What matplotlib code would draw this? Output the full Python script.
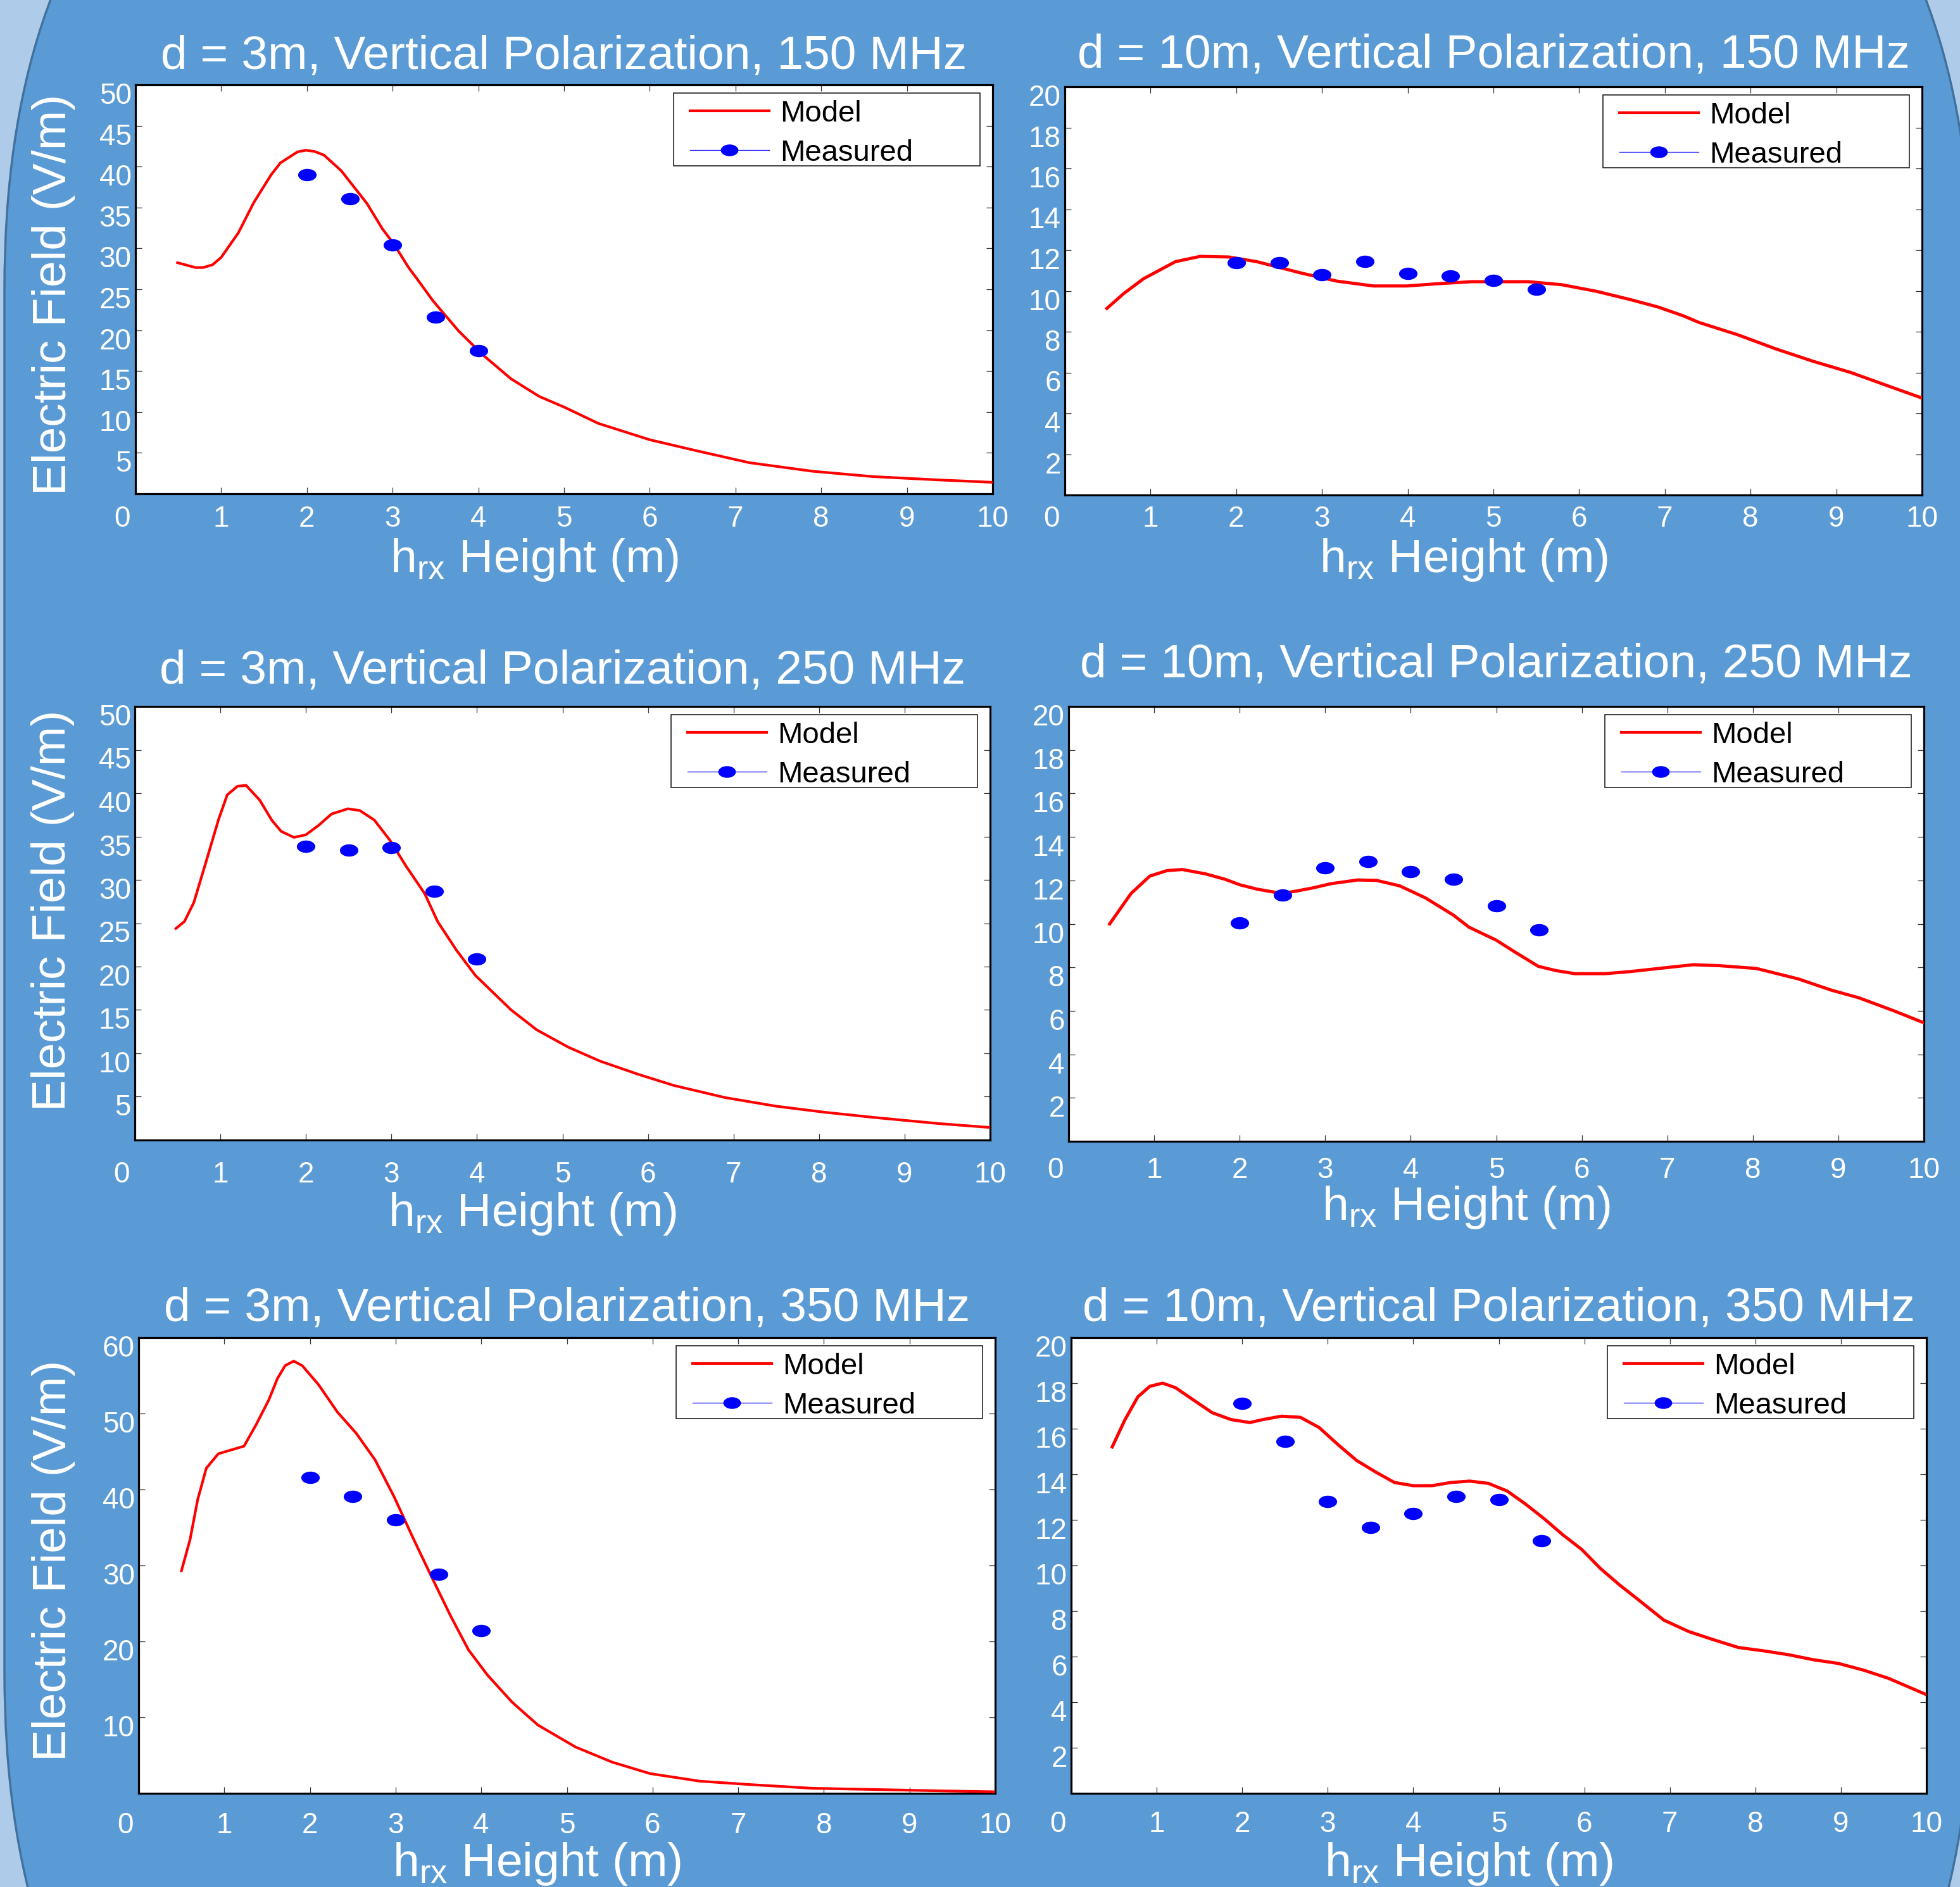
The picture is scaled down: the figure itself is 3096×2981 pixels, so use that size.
import numpy as np
import matplotlib
matplotlib.use("Agg")
import matplotlib.pyplot as plt
from matplotlib.patches import FancyBboxPatch, Rectangle
from matplotlib.path import Path
from matplotlib.transforms import Affine2D, ScaledTranslation
from matplotlib.lines import Line2D

plt.rcParams['font.family'] = ['Liberation Sans', 'DejaVu Sans']
plt.rcParams['mathtext.default'] = 'regular'

# ---- data ----
# receiver heights of the measurements
h_meas_3m = [2.0, 2.5, 3.0, 3.5, 4.0]
h_meas_10m = [2.0, 2.5, 3.0, 3.5, 4.0, 4.5, 5.0, 5.5]

# d = 3m, 150 MHz
h_mod_3m_150 = [0.49, 0.70, 0.79, 0.90, 1.0, 1.2, 1.38, 1.58, 1.69, 1.89, 1.99, 2.09, 2.2, 2.4, 2.7,
                2.88, 3.01, 3.19, 3.29, 3.47, 3.77, 4.05, 4.38, 4.71, 5.0, 5.4, 6.0, 6.57, 7.16, 7.9,
                8.6, 9.35, 10.0]
e_mod_3m_150 = [28.25, 27.66, 27.66, 28.0, 28.9, 31.9, 35.6, 38.96, 40.45, 41.8, 42.0, 41.85, 41.4, 39.5,
                35.5, 32.4, 30.6, 27.6, 26.2, 23.6, 19.9, 17.0, 14.06, 11.9, 10.6, 8.6, 6.6, 5.2, 3.8,
                2.75, 2.1, 1.7, 1.4]
e_meas_3m_150 = [39.0, 36.1, 30.4, 21.6, 17.5]

# d = 10m, 150 MHz
h_mod_10m_150 = [0.49, 0.69, 0.92, 1.29, 1.58, 1.91, 2.24, 2.77, 3.17, 3.6, 3.99, 4.35, 4.75, 5.41, 5.8,
                 6.2, 6.6, 6.92, 7.22, 7.4, 7.85, 8.3, 8.73, 9.17, 9.6, 10.0]
e_mod_10m_150 = [9.14, 9.88, 10.6, 11.43, 11.69, 11.66, 11.43, 10.86, 10.48, 10.24, 10.24, 10.35, 10.45,
                 10.45, 10.3, 9.98, 9.57, 9.21, 8.77, 8.45, 7.85, 7.15, 6.55, 6.0, 5.35, 4.75]
e_meas_10m_150 = [11.38, 11.38, 10.79, 11.43, 10.84, 10.73, 10.5, 10.09]

# d = 3m, 250 MHz
h_mod_3m_250 = [0.48, 0.58, 0.69, 0.83, 0.98, 1.08, 1.2, 1.3, 1.46, 1.6, 1.71, 1.86, 2.0, 2.15, 2.3, 2.49,
                2.63, 2.8, 2.98, 3.17, 3.39, 3.54, 3.76, 3.98, 4.2, 4.4, 4.7, 5.07, 5.44, 5.88, 6.3, 6.9,
                7.5, 8.07, 8.65, 9.4, 10.0]
e_mod_3m_250 = [24.4, 25.2, 27.4, 32.0, 37.0, 39.8, 40.8, 40.9, 39.2, 36.9, 35.6, 34.9, 35.2, 36.3, 37.6,
                38.2, 38.0, 36.9, 34.6, 31.6, 28.4, 25.2, 21.9, 19.0, 16.9, 15.0, 12.7, 10.7, 9.1, 7.6,
                6.3, 4.9, 3.9, 3.2, 2.6, 1.9, 1.45]
e_meas_3m_250 = [33.9, 33.4, 33.7, 28.7, 20.9]

# d = 10m, 250 MHz
h_mod_10m_250 = [0.48, 0.73, 0.95, 1.15, 1.33, 1.6, 1.83, 2.0, 2.2, 2.49, 2.65, 2.85, 3.07, 3.38, 3.6,
                 3.87, 4.17, 4.5, 4.68, 5.0, 5.2, 5.49, 5.7, 5.92, 6.27, 6.55, 6.9, 7.3, 7.6, 8.04,
                 8.53, 8.92, 9.24, 9.65, 10.0]
e_mod_10m_250 = [10.0, 11.4, 12.2, 12.45, 12.5, 12.3, 12.05, 11.8, 11.6, 11.4, 11.5, 11.65, 11.85, 12.02,
                 12.0, 11.75, 11.2, 10.4, 9.85, 9.25, 8.75, 8.05, 7.85, 7.71, 7.71, 7.8, 7.95, 8.12,
                 8.08, 7.95, 7.47, 6.95, 6.6, 6.0, 5.45]
e_meas_10m_250 = [10.03, 11.33, 12.57, 12.86, 12.39, 12.05, 10.83, 9.72]

# d = 3m, 350 MHz
h_mod_3m_350 = [0.5, 0.6, 0.69, 0.79, 0.93, 1.08, 1.23, 1.37, 1.52, 1.62, 1.71, 1.81, 1.91, 2.1, 2.32,
                2.54, 2.76, 2.98, 3.2, 3.42, 3.64, 3.85, 4.07, 4.36, 4.66, 5.1, 5.53, 5.97, 6.55, 7.14,
                7.87, 8.6, 9.33, 10.0]
e_mod_3m_350 = [29.3, 33.4, 38.7, 42.8, 44.7, 45.2, 45.7, 48.5, 51.8, 54.6, 56.3, 56.9, 56.3, 53.8, 50.2,
                47.4, 43.9, 39.1, 33.7, 28.5, 23.4, 18.9, 15.6, 12.0, 9.0, 6.1, 4.1, 2.6, 1.6, 1.15,
                0.66, 0.5, 0.33, 0.2]
e_meas_3m_350 = [41.6, 39.1, 36.0, 28.8, 21.4]

# d = 10m, 350 MHz
h_mod_10m_350 = [0.48, 0.63, 0.78, 0.92, 1.07, 1.22, 1.43, 1.65, 1.87, 2.09, 2.24, 2.46, 2.68, 2.9, 3.12,
                 3.34, 3.56, 3.78, 4.0, 4.22, 4.44, 4.66, 4.88, 5.1, 5.31, 5.53, 5.75, 5.97, 6.19, 6.41,
                 6.63, 6.93, 7.22, 7.51, 7.8, 8.1, 8.39, 8.68, 8.97, 9.27, 9.56, 10.0]
e_mod_10m_350 = [15.2, 16.4, 17.4, 17.86, 18.0, 17.8, 17.26, 16.7, 16.4, 16.27, 16.4, 16.55, 16.5, 16.05,
                 15.3, 14.6, 14.1, 13.64, 13.5, 13.5, 13.64, 13.7, 13.6, 13.26, 12.7, 12.05, 11.34,
                 10.7, 9.86, 9.15, 8.5, 7.6, 7.1, 6.74, 6.4, 6.25, 6.08, 5.86, 5.7, 5.4, 5.04, 4.33]
e_meas_10m_350 = [17.1, 15.45, 12.8, 11.67, 12.27, 13.04, 12.88, 11.07]

height_ticks = list(range(0, 11))
field_ticks_50 = list(range(5, 51, 5))
field_ticks_60 = list(range(10, 61, 10))
field_ticks_20 = list(range(2, 21, 2))

W, H = 3096, 2981
fig = plt.figure(figsize=(W / 100, H / 100), dpi=100, facecolor='#AECCE9')

# rounded blue panel behind the plots
bg = FancyBboxPatch((0.07, -6.25), 31.08, 41.14, boxstyle='round,pad=0,rounding_size=9.65',
                    transform=fig.dpi_scale_trans, fc='#5B9BD5', ec='#41719C', lw=2.5, zorder=0)
fig.add_artist(bg)

# ellipse marker for the measurements
ellipse = Affine2D().scale(1.5, 1.0).transform_path(Path.unit_circle())

panels = [
    # x, y, xm, ym, title, box(L,R,T,B px), ylim, yticks, title pad, xtick pad, xlabel drop, ylabel dy
    (h_mod_3m_150, e_mod_3m_150, h_meas_3m, e_meas_3m_150,
     'd = 3m, Vertical Polarization, 150 MHz', (214, 1568, 134, 780), 50, field_ticks_50, 18, 13, 124, -8),
    (h_mod_10m_150, e_mod_10m_150, h_meas_10m, e_meas_10m_150,
     'd = 10m, Vertical Polarization, 150 MHz', (1682, 3036, 137, 782), 20, field_ticks_20, 22, 11.5, 122, 0),
    (h_mod_3m_250, e_mod_3m_250, h_meas_3m, e_meas_3m_250,
     'd = 3m, Vertical Polarization, 250 MHz', (213, 1564, 1116, 1801), 50, field_ticks_50, 26.5, 24, 136, 20),
    (h_mod_10m_250, e_mod_10m_250, h_meas_10m, e_meas_10m_250,
     'd = 10m, Vertical Polarization, 250 MHz', (1688, 3039, 1116, 1803), 20, field_ticks_20, 33.5, 17, 124, 0),
    (h_mod_3m_350, e_mod_3m_350, h_meas_3m, e_meas_3m_350,
     'd = 3m, Vertical Polarization, 350 MHz', (219, 1572, 2113, 2833), 60, field_ticks_60, 19, 21, 131, 8),
    (h_mod_10m_350, e_mod_10m_350, h_meas_10m, e_meas_10m_350,
     'd = 10m, Vertical Polarization, 350 MHz', (1692, 3043, 2113, 2833), 20, field_ticks_20, 19, 19.5, 131, 0),
]

for i, (xs, ys, xm, ym, ttl, box, ymax, yt, tpad, xpad, xdrop, ydy) in enumerate(panels):
    L, R, T, B = box
    wax, hax = R - L, B - T
    ax = fig.add_axes([L / W, 1 - B / H, wax / W, hax / H])
    ax.set_facecolor('white')

    ax.plot(xs, ys, color='red', lw=3.0 if i % 2 == 0 else 3.6, zorder=3)
    ax.plot(xm, ym, ls='none', marker=ellipse, ms=21, color='blue', mew=0, zorder=4)

    ax.set_xlim(0, 10)
    ax.set_ylim(0, ymax)
    ax.set_xticks(height_ticks)
    ax.set_yticks(yt)

    for s in ax.spines.values():
        s.set_linewidth(2.3)
        s.set_color('black')
    ax.tick_params(direction='in', length=7, width=0.9, color='#333333', top=True, right=True,
                   labelcolor='white', labelsize=33)
    ax.tick_params(axis='x', pad=xpad)
    ax.tick_params(axis='y', pad=4.5)

    # tick label quirks of the original: y labels sit a bit low, the 0 is pushed left
    down = ScaledTranslation(0, -0.13, fig.dpi_scale_trans)
    for lab in ax.get_yticklabels():
        lab.set_transform(lab.get_transform() + down)
    lab0 = ax.get_xticklabels()[0]
    lab0.set_transform(lab0.get_transform() + ScaledTranslation(-0.21, 0, fig.dpi_scale_trans))

    ax.set_title(ttl, fontsize=54, color='white', pad=tpad)
    ax.set_xlabel('h$_{rx}$ Height (m)', fontsize=54, color='white', va='baseline')
    ax.xaxis.set_label_coords(0.5 - 47 / wax, -xdrop / hax)
    if i % 2 == 0:
        ax.set_ylabel('Electric Field (V/m)', fontsize=54, color='white', va='center')
        dx = -134 if i == 4 else -129
        ax.yaxis.set_label_coords(dx / wax, 0.5 + ydy / hax)

    # legend: frame drawn separately so its size matches the original
    fw, fh = 484, 115
    frame = Rectangle((1 - (20 + fw) / wax, 1 - (13 + fh) / hax), fw / wax, fh / hax,
                      transform=ax.transAxes, fc='white', ec='#222222', lw=1.2, zorder=5)
    ax.add_patch(frame)
    handles = [Line2D([], [], color='red', lw=3.0),
               Line2D([], [], color='blue', lw=0.9, marker=ellipse, ms=20, mew=0)]
    leg = ax.legend(handles, ['Model', 'Measured'], loc='upper left',
                    bbox_to_anchor=(1 - (20 + fw - 26) / wax, 1 - 24 / hax),
                    borderaxespad=0, borderpad=0, frameon=False, fontsize=34,
                    handlelength=2.64, handletextpad=0.38, labelspacing=0.38)
    leg.set_zorder(6)

fig.savefig('out.png', dpi=100, facecolor=fig.get_facecolor())
